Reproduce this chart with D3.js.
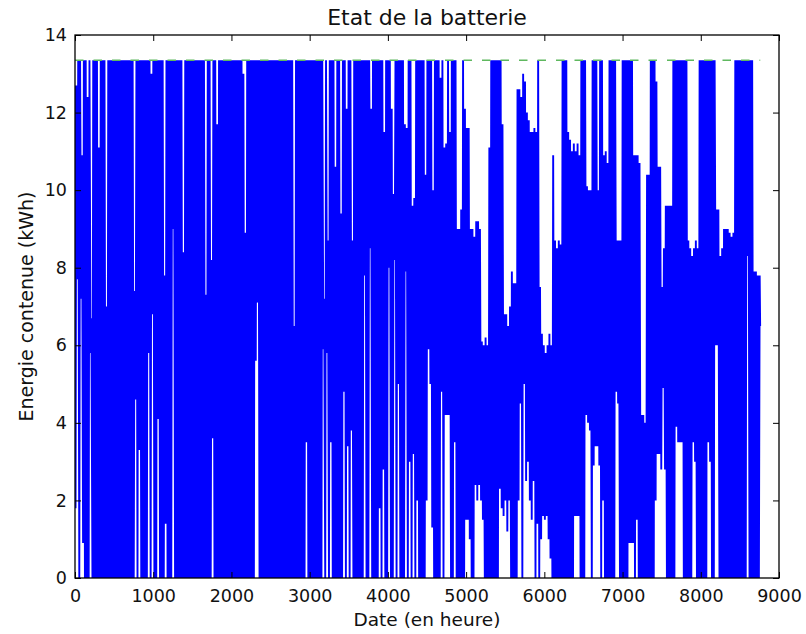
<!DOCTYPE html>
<html>
<head>
<meta charset="utf-8">
<script src="https://cdn.jsdelivr.net/npm/d3@7"></script>
<style>
  body { margin: 0; background: #fff; }
  text { font-family: "DejaVu Sans", sans-serif; fill: #111; }
</style>
</head>
<body>
<div id="chart"></div>
<script>
// battery level: one low (morning) and one high (afternoon) per day
const dayMax = [
  12.7,13.35,13.35,10.9,13.35,13.35,12.4,13.35,6.7,13.35,
  13.35,13.35,11.1,13.35,13.35,13.35,7.0,13.35,13.35,13.35,
  13.35,13.35,13.35,13.35,13.35,13.35,13.35,13.35,13.35,13.35,
  13.35,7.4,13.35,13.35,13.35,13.35,13.35,13.35,13.35,13.35,
  13.0,13.35,13.35,13.35,13.35,13.35,13.35,7.8,13.35,13.35,
  13.35,13.35,13.35,13.35,13.35,13.35,13.35,8.4,13.35,13.35,
  13.35,13.35,13.35,13.35,13.35,13.35,13.35,13.35,13.35,7.3,
  13.35,13.35,8.2,13.35,13.35,11.7,13.35,13.35,13.35,13.35,
  13.35,13.35,13.35,13.35,13.35,13.35,13.35,13.35,13.35,13.0,
  8.9,13.35,13.35,13.35,13.35,13.35,13.35,13.35,13.35,13.35,
  13.35,13.35,13.35,13.35,13.35,13.35,13.35,13.35,13.35,13.35,
  13.35,13.35,13.35,13.35,13.35,13.35,6.5,13.35,13.35,13.35,
  13.35,13.35,13.35,13.35,13.35,13.35,13.35,13.35,13.35,13.35,
  13.35,13.35,7.2,13.35,8.7,13.35,13.35,13.35,10.6,13.35,
  13.35,9.4,13.35,13.35,12.1,13.35,13.35,8.7,13.35,13.35,
  13.35,13.35,13.35,13.35,13.35,13.35,13.35,12.1,13.35,13.35,
  13.35,13.35,13.35,13.35,11.5,13.35,13.35,13.35,12.1,9.9,
  13.35,13.35,13.35,13.35,13.35,11.7,11.6,13.35,13.35,9.6,
  9.8,13.35,13.35,13.35,13.35,13.35,10.4,13.35,13.35,13.35,
  10.0,13.35,13.35,13.35,12.9,13.35,11.1,11.2,13.35,11.5,
  13.35,13.35,13.35,9.0,9.0,9.5,13.35,12.1,11.6,11.6,
  9.0,9.0,8.8,9.2,9.2,9.0,6.1,6.0,6.2,6.0,
  11.1,13.35,13.35,13.35,13.35,13.35,13.35,11.7,6.8,6.8,
  6.5,7.0,7.9,7.6,7.6,12.6,12.6,12.4,13.0,12.8,
  12.0,11.8,11.5,11.5,11.6,11.5,13.35,7.5,6.3,6.0,
  5.8,6.0,6.3,6.0,10.9,8.7,8.5,8.7,8.6,13.35,
  13.35,13.35,11.5,11.3,11.0,11.2,11.0,11.2,10.9,13.35,
  13.35,13.35,10.1,10.0,10.0,13.35,13.35,13.35,10.0,13.35,
  13.35,10.9,11.0,10.7,13.35,13.35,13.35,13.35,8.7,8.7,
  8.7,13.35,13.35,13.35,13.35,13.35,13.35,10.9,10.9,10.9,
  10.7,4.2,4.2,4.0,10.4,10.4,13.35,13.35,13.35,12.8,
  10.6,10.6,7.5,8.5,9.6,9.6,9.6,9.6,13.35,13.35,
  13.35,13.35,13.35,13.35,13.35,13.35,8.7,8.5,8.3,8.5,
  8.7,8.5,13.35,13.35,13.35,13.35,13.35,13.35,13.35,13.35,
  13.35,9.5,9.5,8.3,8.5,9.0,9.0,9.0,8.9,8.8,
  8.9,13.35,13.35,13.35,13.35,13.35,13.35,13.35,13.35,13.35,
  13.35,7.9,7.9,7.8,7.8
];
const dayMin = [
  1.8,7.7,0,7.2,0.9,0,0,0,5.8,0,
  0,0,0,0,0,0,0,0,0,0,
  0,0,0,0,0,0,0,0,0,0,
  0,0,4.6,0,3.3,0,0,0,0,5.8,
  0,6.8,0,0,4.1,0,0,0,1.4,0,
  0,0,9.0,0,0,0,0,0,0,0,
  0,0,0,0,0,0,0,0,0,0,
  0,0,0,3.6,0,0,0,0,0,0,
  0,0,0,0,0,0,0,0,0,0,
  0,0,0,0,0,0,5.6,7.1,0,0,
  0,0,0,0,0,0,0,0,0,0,
  0,0,0,0,0,0,0,0,0,0,
  0,0,0,3.5,0,0,0,0,0,0,
  0,0,5.9,0,5.8,0,3.5,0,0,0,
  0,0,0,4.8,0,3.4,0,3.8,0,0,
  0,0,0,0,7.8,0,0,8.5,0,0,
  0,0,1.8,0,2.8,0,0,8.0,0,0,
  8.2,0,5.0,0,0,0,7.9,0,3.0,0,
  3.2,0,2.0,0,0,0,0,2.0,5.9,5.0,
  1.3,0,0,0,0,4.8,0,4.2,4.2,4.2,
  0,0,3.5,0,0,0,0,0,1.5,1.5,
  1.0,0,0,2.4,2.0,2.4,2.0,1.5,0,0,
  0,0,0,0,0,0,2.3,1.8,1.6,2.0,
  1.2,2.0,0,0,0,0,2.0,4.5,0,5.0,
  2.5,3.0,2.0,1.5,2.5,0,1.4,0,1.0,1.6,
  1.5,1.6,1.0,0.5,0,0,0,0,0,0,
  0,0,0,0,0,0,1.6,1.6,1.6,0,
  0,0,4.2,4.0,3.8,0,2.9,3.4,3.4,2.9,
  0,2.0,0,0,0,0,0,0,4.8,4.5,
  0,0,0,0,0,0.9,0.9,0.9,0,1.5,
  0,0,0,0,0,0,0,0,0,2.0,
  3.2,3.2,2.8,4.9,2.8,0,0,0,0,0,
  3.9,3.5,3.5,3.5,0,0,0,0,0,3.5,
  3.0,0,0,0,0,0,0,3.5,3.0,0,
  0,6.0,6.0,0,0,0,0,0,0,0,
  0,0,0,0,0,0,0,0,8.3,0,
  0,0,0,0,0
];
const startLevel = 12.7;   // hour 0
const endLevel = 6.5;      // hour 8759
const capacity = 13.35;    // green dashed line
const lastHour = 8760;
const xTicks = [0,1000,2000,3000,4000,5000,6000,7000,8000,9000];
const yTicks = [0,2,4,6,8,10,12,14];

const svgWidth = 806, svgHeight = 634;
const margin = {top: 35, left: 75, right: 27, bottom: 56};
const width = svgWidth - margin.left - margin.right;
const height = svgHeight - margin.top - margin.bottom;

// hourly series as vertices: start, then low at 7h and high at 17h each day, then end
const series = [[0, startLevel]];
dayMax.forEach((m, d) => {
  series.push([24 * d + 7, dayMin[d]]);
  series.push([24 * d + 17, m]);
});
series.push([lastHour - 1, endLevel]);

const svg = d3.select("#chart").append("svg")
  .attr("width", svgWidth)
  .attr("height", svgHeight)
  .append("g")
  .attr("transform", "translate(" + margin.left + "," + margin.top + ")");

const x = d3.scaleLinear().domain([0, 9000]).range([0, width]);
const y = d3.scaleLinear().domain([0, 14]).range([height, 0]);

const line = d3.line().x(d => x(d[0])).y(d => y(d[1]));

svg.append("defs").append("clipPath").attr("id", "plotClip")
  .append("rect").attr("width", width).attr("height", height);

const plot = svg.append("g").attr("clip-path", "url(#plotClip)");

plot.append("path")
  .datum(series)
  .attr("fill", "none")
  .attr("stroke", "#0000ff")
  .attr("stroke-width", 1.9)
  .attr("stroke-linejoin", "miter")
  .attr("stroke-miterlimit", 2)
  .attr("d", line);

plot.append("path")
  .datum([[0, capacity], [lastHour, capacity]])
  .attr("fill", "none")
  .attr("stroke", "#5fb85f")
  .attr("stroke-width", 1.6)
  .attr("stroke-dasharray", "8.5,10")
  .attr("d", line);

// axes, ticks inside on all four sides
const fontTick = "17.5px";
const axBottom = svg.append("g")
  .attr("transform", "translate(0," + height + ")")
  .call(d3.axisBottom(x).tickValues(xTicks).tickFormat(d3.format("d")).tickSizeInner(-6).tickSizeOuter(0).tickPadding(12));
const axLeft = svg.append("g")
  .call(d3.axisLeft(y).tickValues(yTicks).tickFormat(d3.format("d")).tickSizeInner(-6).tickSizeOuter(0).tickPadding(8));
const axTop = svg.append("g")
  .call(d3.axisTop(x).tickValues(xTicks).tickFormat("").tickSizeInner(-6).tickSizeOuter(0));
const axRight = svg.append("g")
  .attr("transform", "translate(" + width + ",0)")
  .call(d3.axisRight(y).tickValues(yTicks).tickFormat("").tickSizeInner(-6).tickSizeOuter(0));

[axBottom, axLeft, axTop, axRight].forEach(g => {
  g.select(".domain").remove();
  g.selectAll(".tick line").attr("stroke", "#000").attr("stroke-width", 1);
  g.selectAll(".tick text").style("font-size", fontTick).style("font-family", "DejaVu Sans").attr("fill", "#111");
});

svg.append("rect")
  .attr("width", width)
  .attr("height", height)
  .attr("fill", "none")
  .attr("stroke", "#000")
  .attr("stroke-width", 1.3);

svg.append("text")
  .attr("x", width / 2)
  .attr("y", -10)
  .attr("text-anchor", "middle")
  .style("font-size", "22px")
  .text("Etat de la batterie");

svg.append("text")
  .attr("x", width / 2)
  .attr("y", height + 48)
  .attr("text-anchor", "middle")
  .style("font-size", "18.5px")
  .text("Date (en heure)");

svg.append("text")
  .attr("transform", "translate(" + (-42) + "," + (height / 2) + ") rotate(-90)")
  .attr("text-anchor", "middle")
  .style("font-size", "19px")
  .text("Energie contenue (kWh)");
</script>
</body>
</html>
